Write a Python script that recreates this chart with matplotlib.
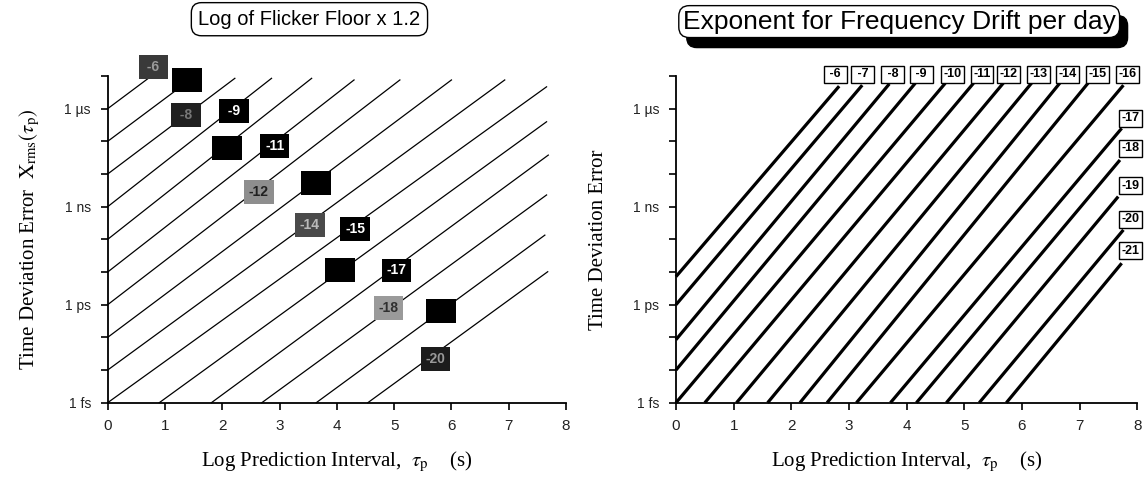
import numpy as np
import matplotlib as mpl
mpl.use('Agg')  # Headless mode
import matplotlib.pyplot as plt
from matplotlib.patches import FancyBboxPatch

# --- left panel: flicker floor lines, log10 values ---
flick_labels = ['-6', '-7', '-8', '-9', '-10', '-11', '-12', '-13', '-14',
                '-15', '-16', '-17', '-18', '-19', '-20']
flick_x0 = [0, 0, 0, 0, 0, 0, 0, 0, 0, 0, 0.90, 1.81, 2.69, 3.64, 4.54]
flick_y0 = [-6, -7, -8, -9, -10, -11, -12, -13, -14, -15, -15, -15, -15, -15, -15]
flick_x1 = [0.71, 1.45, 2.22, 2.86, 3.56, 4.30, 5.10, 6.00, 6.93, 7.66,
            7.66, 7.69, 7.66, 7.63, 7.68]
flick_y1 = [-5.07, -5.10, -5.07, -5.07, -5.07, -5.12, -5.12, -5.12, -5.12,
            -5.33, -6.40, -7.42, -8.64, -9.87, -10.99]
flick_lx = [0.80, 1.39, 1.37, 2.20, 2.08, 2.92, 2.64, 3.64, 3.53, 4.32,
            4.06, 5.04, 4.90, 5.82, 5.72]
flick_ly = [-4.72, -5.12, -6.20, -6.08, -7.20, -7.15, -8.54, -8.28, -9.56,
            -9.68, -10.94, -10.95, -12.10, -12.20, -13.66]
# scanned label boxes: fill / text colour
flick_face = ['#3a3a3a', 'black', '#202020', 'black', 'black', 'black', '#8e8e8e',
              'black', '#4a4a4a', 'black', 'black', 'black', '#9a9a9a', 'black', '#1c1c1c']
flick_tc = ['#9a9a9a', 'black', '#777777', 'white', 'black', 'white', '#202020',
            'black', '#bbbbbb', 'white', 'black', 'white', '#303030', 'black', '#999999']

# --- right panel: frequency drift lines ---
drift_labels = ['-6', '-7', '-8', '-9', '-10', '-11', '-12', '-13', '-14', '-15',
                '-16', '-17', '-18', '-19', '-20', '-21']
drift_x0 = [0, 0, 0, 0, 0, 0.50, 1.05, 1.59, 2.15, 2.62, 3.13, 3.72, 4.17, 4.69, 5.26, 5.73]
drift_y0 = [-11.14, -12, -13.07, -14] + [-15] * 12
drift_x1 = [2.83, 3.23, 3.70, 4.15, 4.67, 5.16, 5.68, 6.17, 6.66, 7.15,
            7.76, 7.73, 7.70, 7.67, 7.76, 7.73]
drift_y1 = [-5.31, -5.28, -5.24, -5.22, -5.22, -5.22, -5.21, -5.21, -5.21, -5.21,
            -5.28, -6.60, -7.57, -8.69, -9.71, -10.73]
drift_lx = [2.76, 3.24, 3.76, 4.25, 4.79, 5.31, 5.76, 6.28, 6.79, 7.31, 7.83,
            7.89, 7.89, 7.89, 7.89, 7.89]
drift_ly = [-4.95] * 11 + [-6.29, -7.21, -8.36, -9.38, -10.35]

xticks = [0, 1, 2, 3, 4, 5, 6, 7, 8]
ydecades = list(range(-15, -4))
ylabels = {-6: '1 \u00b5s', -9: '1 ns', -12: '1 ps', -15: '1 fs'}

plt.rcParams['mathtext.fontset'] = 'stix'
serif = 'Liberation Serif'
sans = 'Liberation Sans'

fig = plt.figure(figsize=(11.44, 4.8), dpi=100)
ax1 = fig.add_axes([0.0941, 0.161, 0.4007, 0.6806])
ax2 = fig.add_axes([0.5909, 0.161, 0.4032, 0.6806])


def style_axes(ax):
    ax.set_yscale('log')
    ax.set_xlim(0, 8)
    ax.set_ylim(1e-15, 1e-5)
    ax.set_xticks(xticks)
    ax.set_xticklabels([str(t) for t in xticks], family=sans, fontsize=11, color='#222')
    ax.set_yticks([10.0 ** d for d in ydecades])
    ax.set_yticklabels([ylabels.get(d, '') for d in ydecades], family=sans,
                       fontsize=10, color='#222')
    ax.yaxis.set_minor_locator(mpl.ticker.NullLocator())
    ax.tick_params(direction='out', length=5, width=1.2, pad=7)
    for s in ['top', 'right']:
        ax.spines[s].set_visible(False)
    for s in ['left', 'bottom']:
        ax.spines[s].set_linewidth(1.3)
    ax.set_xlabel('Log Prediction Interval,  $\\tau_{\\rm p}$    (s)', family=serif,
                  fontsize=15, labelpad=12)


style_axes(ax1)
style_axes(ax2)
ax1.set_ylabel('Time Deviation Error  $\\mathrm{X}_{\\rm rms}(\\tau_{\\rm p})$', family=serif,
               fontsize=15, labelpad=16)
ax2.set_ylabel('Time Deviation Error', family=serif, fontsize=15, labelpad=18)

for i, lab in enumerate(flick_labels):
    ax1.plot([flick_x0[i], flick_x1[i]], [10.0 ** flick_y0[i], 10.0 ** flick_y1[i]],
             color='black', lw=0.9, clip_on=False, zorder=2)
    txt = f' {lab} ' if len(lab) == 2 else lab
    ax1.text(flick_lx[i], 10.0 ** flick_ly[i], txt, ha='center', va='center',
             family=sans, fontsize=10, fontweight='bold', color=flick_tc[i],
             clip_on=False, zorder=5,
             bbox=dict(boxstyle='square,pad=0.35', fc=flick_face[i], ec='none'))

for i, lab in enumerate(drift_labels):
    ax2.plot([drift_x0[i], drift_x1[i]], [10.0 ** drift_y0[i], 10.0 ** drift_y1[i]],
             color='black', lw=2.3, clip_on=False, zorder=2, solid_capstyle='butt')
    txt = f' {lab} ' if len(lab) == 2 else lab
    ax2.text(drift_lx[i], 10.0 ** drift_ly[i], txt, ha='center', va='center',
             family=sans, fontsize=9, fontweight='bold', color='black',
             clip_on=False, zorder=5,
             bbox=dict(boxstyle='square,pad=0.2', fc='white', ec='black', lw=1))

# titles in rounded boxes (right one with drop shadow)
fig.text(0.2705, 0.960, 'Log of Flicker Floor x 1.2', ha='center', va='center',
         family=sans, fontsize=14.5, zorder=5,
         bbox=dict(boxstyle='round,pad=0.35,rounding_size=0.5', fc='white', ec='black', lw=1))
t2 = fig.text(0.786, 0.955, 'Exponent for Frequency Drift per day', ha='center',
              va='center', family=sans, fontsize=19, zorder=5,
              bbox=dict(boxstyle='round,pad=0.15,rounding_size=0.4', fc='white',
                        ec='black', lw=1))

fig.canvas.draw()
bb = t2.get_bbox_patch().get_window_extent()
shadow = FancyBboxPatch((bb.x0 + 8, bb.y0 - 10), bb.width, bb.height,
                        boxstyle='round,pad=0,rounding_size=10', fc='black', ec='black',
                        transform=None, zorder=4)
fig.add_artist(shadow)

fig.savefig('out.png', dpi=100)
